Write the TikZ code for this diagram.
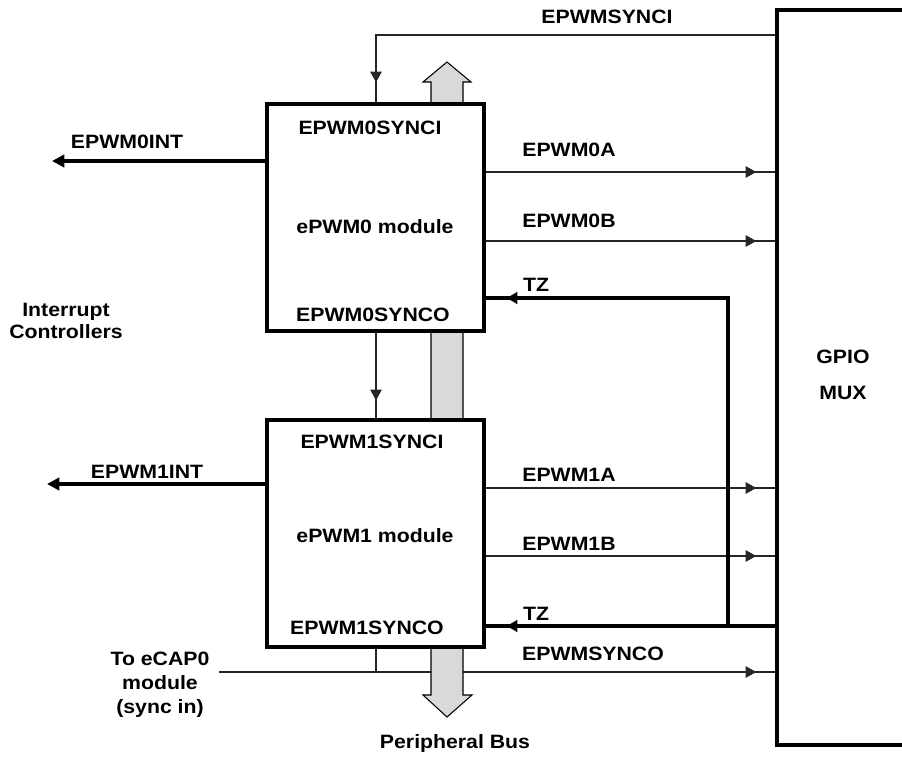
\documentclass[tikz,border=0pt]{standalone}
\usepackage{fontspec}
\setmainfont{Liberation Sans}[FakeStretch=1.1]
\usepackage{tikz}
\usetikzlibrary{arrows.meta, positioning, calc, decorations.markings, backgrounds}

\begin{document}
\begin{tikzpicture}[x=0.02cm, y=-0.02cm,
    modbox/.style={draw, line width=2pt, fill=white, minimum width=4.34cm,
      minimum height=4.54cm},
    muxbox/.style={draw, line width=2pt, minimum width=4.92cm,
      minimum height=14.7cm},
    lbl/.style={font=\bfseries\fontsize{11}{13}\selectfont, inner sep=0pt,
      align=center},
    sig/.style={line width=0.6pt, black!85},
    wide/.style={line width=2pt},
    tipat/.style={postaction={decorate}, decoration={markings,
      mark=at position #1 with {\arrow{Triangle[length=6pt,width=6.5pt]}}}},
    toend/.style={-{Triangle[length=7pt,width=7pt]}}]
  \useasboundingbox (0,0) rectangle (902,757);
  \clip (0,0) rectangle (902,757);
  % blocks
  \node[muxbox] (gpio) at (900,377.5) {};
  \node[modbox] (pwm0) at (375.5,217.5) {};
  \node[modbox] (pwm1) at (375.5,533.5) {};
  \node[lbl] (gpiot) at (843,357) {GPIO};
  \node[lbl] (muxt) at (843,393) {MUX};
  \node[lbl] (si0) at (370,128) {EPWM0SYNCI};
  \node[lbl] (mod0) at (375,227) {ePWM0 module};
  \node[lbl] (so0) at (373,315) {EPWM0SYNCO};
  \node[lbl] (si1) at (372,442) {EPWM1SYNCI};
  \node[lbl] (mod1) at (375,536) {ePWM1 module};
  \node[lbl] (so1) at (367,628) {EPWM1SYNCO};
  % signal levels
  \coordinate (syi) at (376,35);
  \coordinate (sx) at (376,0);
  \coordinate (int0) at (52,161);
  \coordinate (int1) at (47,484);
  \coordinate (a0) at (0,172);
  \coordinate (b0) at (0,241);
  \coordinate (tz0) at (0,298);
  \coordinate (a1) at (0,488);
  \coordinate (b1) at (0,556);
  \coordinate (tz1) at (0,626);
  \coordinate (tzj) at (728,626);
  \coordinate (syo) at (0,672);
  \coordinate (ecap) at (219,672);
  % connectors
  \draw[sig, tipat=-0.4cm] (gpio.west |- syi) -| (pwm0.north -| sx);
  \draw[wide, toend] (pwm0.west |- int0) -- (int0);
  \draw[wide, toend] (pwm1.west |- int1) -- (int1);
  \draw[sig, tipat=-0.38cm] (pwm0.east |- a0) -- (gpio.west |- a0);
  \draw[sig, tipat=-0.38cm] (pwm0.east |- b0) -- (gpio.west |- b0);
  \draw[sig, tipat=-0.38cm] (pwm1.east |- a1) -- (gpio.west |- a1);
  \draw[sig, tipat=-0.38cm] (pwm1.east |- b1) -- (gpio.west |- b1);
  \draw[wide, tipat=-0.42cm] (tzj) |- (pwm0.east |- tz0);
  \draw[wide, tipat=-0.42cm] (gpio.west |- tz1) -- (pwm1.east |- tz1);
  \draw[sig, tipat=-0.36cm] (pwm0.south -| sx) -- (pwm1.north -| sx);
  \begin{scope}[on background layer]
    \draw[sig, tipat=-0.38cm] (ecap) -- (gpio.west |- syo);
    \draw[sig] (pwm1.south -| sx) -- (sx |- syo);
    % peripheral bus
    \draw[line width=0.6pt, fill=black!15] (431,695) -- (431,82) -- (423,82)
      -- (447,62) -- (471,82) -- (463,82) -- (463,695) -- (472,695)
      -- (447,717) -- (423,695) -- cycle;
  \end{scope}
  % labels
  \node[lbl] (lsyi) at (607,17) {EPWMSYNCI};
  \node[lbl] (lint0) at (127,142) {EPWM0INT};
  \node[lbl] (lint1) at (147,472) {EPWM1INT};
  \node[lbl] (la0) at (569,150) {EPWM0A};
  \node[lbl] (lb0) at (569,221) {EPWM0B};
  \node[lbl] (ltz0) at (536,285) {TZ};
  \node[lbl] (la1) at (569,475) {EPWM1A};
  \node[lbl] (lb1) at (569,544) {EPWM1B};
  \node[lbl] (ltz1) at (536,614) {TZ};
  \node[lbl] (lsyo) at (593,654) {EPWMSYNCO};
  \node[lbl] (irq) at (66,321) {Interrupt\\Controllers};
  \node[lbl, font=\bfseries\fontsize{11}{13.6}\selectfont] (cap) at (160,685)
    {To eCAP0\\module\\(sync in)};
  \node[lbl] (pbus) at (455,743) {Peripheral Bus};
\end{tikzpicture}
\end{document}
